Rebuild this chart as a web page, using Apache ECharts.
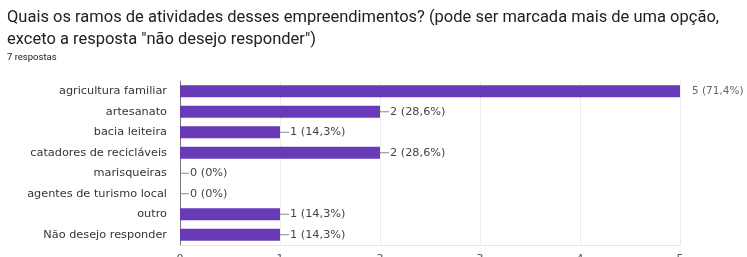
<!DOCTYPE html>
<html>
<head>
<meta charset="utf-8">
<script src="https://cdn.jsdelivr.net/npm/echarts@6/dist/echarts.min.js"></script>
<style>
  html, body { margin: 0; padding: 0; background: #fff; }
  #chart { width: 747px; height: 257px; }
</style>
</head>
<body>
<div id="chart"></div>
<script>
const categories = ['agricultura familiar', 'artesanato', 'bacia leiteira', 'catadores de recicláveis',
  'marisqueiras', 'agentes de turismo local', 'outro', 'Não desejo responder'];
const counts = [5, 2, 1, 2, 0, 0, 1, 1];
const percents = ['71,4%', '28,6%', '14,3%', '28,6%', '0%', '0%', '14,3%', '14,3%'];
const xTicks = [0, 1, 2, 3, 4, 5];

const chart = echarts.init(document.getElementById('chart'));

// bars that reach the axis max get a plain label, the rest get a short leader line
const barData = counts.map((v, i) => {
  const full = v === xTicks[xTicks.length - 1];
  return {
    value: v,
    label: full
      ? { formatter: v + ' (' + percents[i] + ')', distance: 12, fontSize: 10.5, color: '#666' }
      : { formatter: '{ln|}{t|' + v + ' (' + percents[i] + ')}', distance: 0 }
  };
});

chart.setOption({
  animation: false,
  title: {
    text: 'Quais os ramos de atividades desses empreendimentos? (pode ser marcada mais de uma opção,\nexceto a resposta "não desejo responder")',
    subtext: '7 respostas',
    left: 2,
    top: 2,
    itemGap: 2,
    textStyle: {
      fontFamily: 'Roboto',
      fontSize: 16.5,
      fontWeight: 'normal',
      color: '#202124',
      lineHeight: 22
    },
    subtextStyle: {
      fontFamily: 'Roboto',
      fontSize: 9.5,
      color: '#202124'
    }
  },
  grid: {
    left: 180,
    right: 67,
    top: 81,
    bottom: 12,
    outerBoundsMode: 'none'
  },
  xAxis: {
    type: 'value',
    min: 0,
    max: 5,
    interval: 1,
    axisLine: { show: true, lineStyle: { color: '#e6e6e6' } },
    axisTick: { show: false },
    axisLabel: {
      margin: 9,
      fontFamily: 'DejaVu Sans',
      fontSize: 11,
      color: '#555'
    },
    splitLine: { lineStyle: { color: '#ececec' } }
  },
  yAxis: {
    type: 'category',
    inverse: true,
    data: categories,
    axisLine: { show: true, lineStyle: { color: '#777' } },
    axisTick: { show: false },
    axisLabel: {
      margin: 13,
      fontFamily: 'DejaVu Sans',
      fontSize: 11.3,
      color: '#333'
    }
  },
  series: [
    {
      type: 'bar',
      data: barData,
      barWidth: 12,
      itemStyle: { color: '#673ab7' },
      label: {
        show: true,
        position: 'right',
        fontFamily: 'DejaVu Sans',
        fontSize: 11.3,
        color: '#444',
        rich: {
          ln: { width: 9, height: 1, backgroundColor: '#888', verticalAlign: 'middle' },
          t: { fontFamily: 'DejaVu Sans', fontSize: 11.3, color: '#444', padding: [0, 0, 0, 1] }
        }
      }
    }
  ]
});
</script>
</body>
</html>
